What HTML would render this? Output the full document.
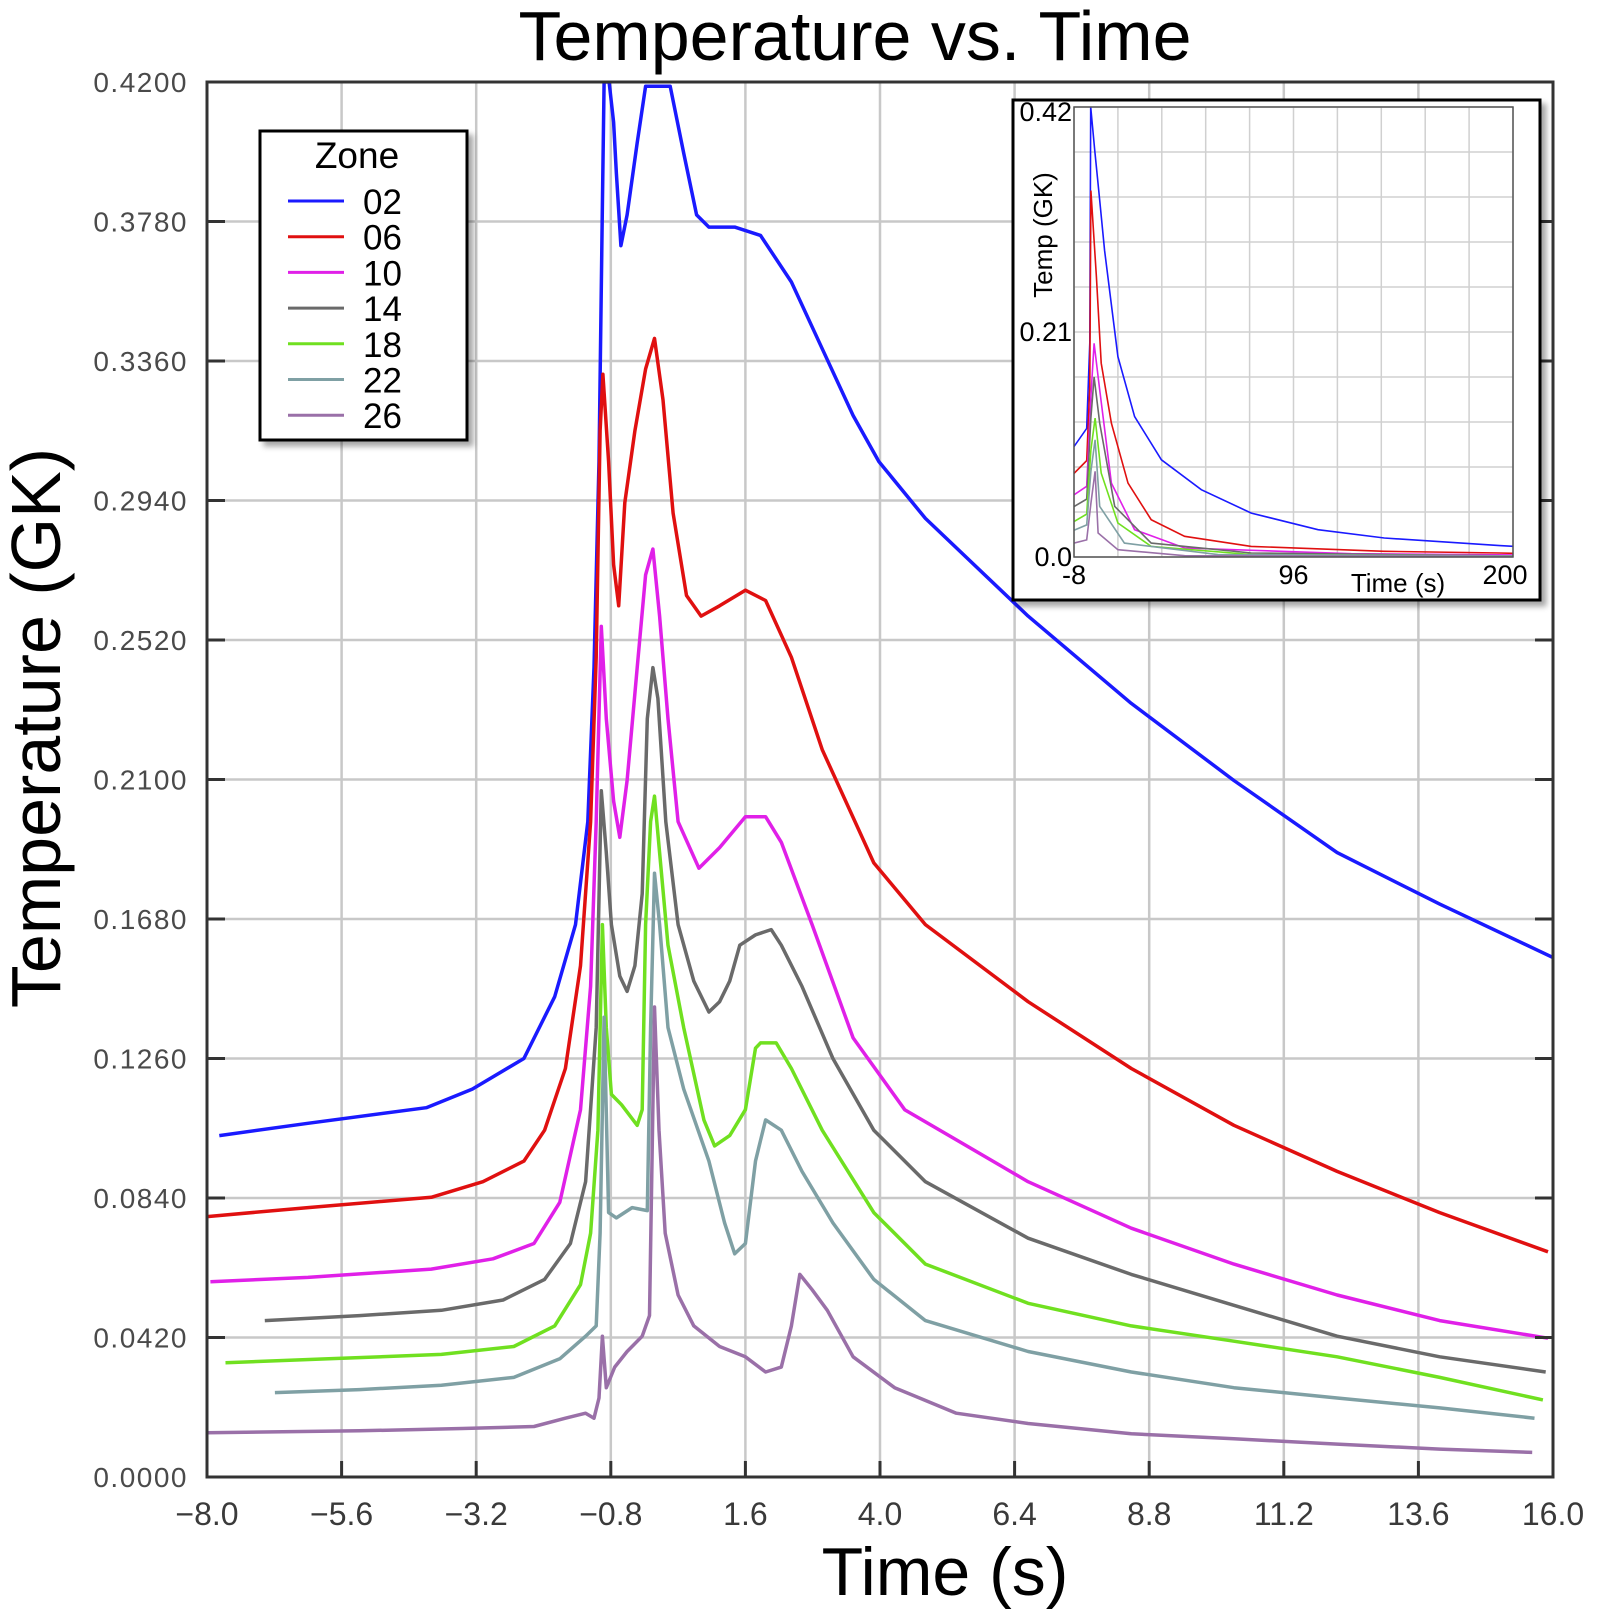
<!DOCTYPE html>
<html><head><meta charset="utf-8">
<style>
html,body{margin:0;padding:0;background:#fff;}
svg{display:block;font-family:"Liberation Sans",sans-serif;}
</style></head>
<body>
<svg id="chart" width="1597" height="1612" viewBox="0 0 1597 1612" xmlns="http://www.w3.org/2000/svg">
<defs>
<clipPath id="mainClip"><rect x="207" y="82" width="1346" height="1395"/></clipPath>
<clipPath id="insetClip"><rect x="1074" y="107" width="439" height="450"/></clipPath>
<filter id="shadow" x="-10%" y="-10%" width="130%" height="130%"><feDropShadow dx="5" dy="5" stdDeviation="3" flood-color="#000" flood-opacity="0.35"/></filter>
</defs>
<text x="855" y="60" font-size="70" text-anchor="middle" fill="#000">Temperature vs. Time</text>
<g id="grid"></g>
<g id="series" clip-path="url(#mainClip)"></g>
<rect x="207" y="82" width="1346" height="1395" fill="none" stroke="#333" stroke-width="3"/>
<g id="ticks"></g>
<text x="945" y="1595" font-size="68" text-anchor="middle" fill="#000">Time (s)</text>
<text transform="translate(60,728) rotate(-90)" font-size="70" text-anchor="middle" fill="#000">Temperature (GK)</text>
<g id="legend"></g>
<g id="inset"></g>
</svg>
<script>
const NS="http://www.w3.org/2000/svg";
const zones=["02","06","10","14","18","22","26"];
const colors=["#1a1aff","#e01010","#e020e8","#6a6a6a","#70e020","#7fa0a4","#9a70a8"];
const xTicks=[-8.0,-5.6,-3.2,-0.8,1.6,4.0,6.4,8.8,11.2,13.6,16.0];
const yTicks=[0.0,0.042,0.084,0.126,0.168,0.21,0.252,0.294,0.336,0.378,0.42];
const t02=[-7.78,-6.20,-4.09,-3.27,-2.35,-1.80,-1.43,-1.21,-1.10,-1.01,-0.95,-0.92,-0.83,-0.75,-0.70,-0.62,-0.51,-0.33,-0.18,0.13,0.26,0.50,0.73,0.95,1.41,1.87,2.42,2.97,3.52,3.98,4.81,6.64,8.48,10.31,12.15,13.98,16.0];
const v02=[0.1028,0.1065,0.1112,0.1168,0.1260,0.1446,0.1663,0.1973,0.2437,0.3057,0.3831,0.42,0.42,0.4079,0.3924,0.3707,0.3800,0.4017,0.4187,0.4187,0.4187,0.3986,0.3800,0.3763,0.3763,0.3738,0.3598,0.3397,0.3196,0.3057,0.2886,0.2592,0.2329,0.2097,0.1880,0.1725,0.1564];
const t06=[-8,-6.20,-4.0,-3.08,-2.35,-1.98,-1.61,-1.34,-1.16,-1.06,-0.99,-0.94,-0.84,-0.75,-0.66,-0.55,-0.37,-0.18,-0.02,0.13,0.31,0.55,0.81,1.14,1.60,1.96,2.42,2.97,3.89,4.81,6.64,8.48,10.31,12.15,13.98,15.91];
const v06=[0.0784,0.0811,0.0842,0.0889,0.0951,0.1044,0.1230,0.1539,0.1973,0.2468,0.3150,0.3320,0.3057,0.2747,0.2623,0.2933,0.3150,0.3336,0.3428,0.3243,0.2902,0.2654,0.2592,0.2623,0.2670,0.2639,0.2468,0.2190,0.1849,0.1663,0.1431,0.1230,0.1059,0.0920,0.0796,0.0678];
const t10=[-7.94,-6.20,-4.0,-2.90,-2.17,-1.71,-1.34,-1.16,-1.06,-0.97,-0.88,-0.75,-0.64,-0.51,-0.33,-0.18,-0.05,0.07,0.22,0.40,0.77,1.14,1.60,1.96,2.24,2.79,3.52,4.44,6.64,8.48,10.31,12.15,13.98,15.91];
const v10=[0.0588,0.0601,0.0626,0.0657,0.0703,0.0827,0.1106,0.1477,0.1973,0.2561,0.2283,0.2035,0.1926,0.2097,0.2437,0.2716,0.2794,0.2592,0.2283,0.1973,0.1833,0.1895,0.1988,0.1988,0.1911,0.1663,0.1322,0.1106,0.0889,0.0749,0.0641,0.0548,0.0471,0.0418];
const t14=[-6.97,-5.28,-3.82,-2.72,-1.98,-1.52,-1.25,-1.06,-0.97,-0.88,-0.79,-0.64,-0.51,-0.37,-0.24,-0.15,-0.05,0.04,0.18,0.40,0.68,0.95,1.14,1.32,1.50,1.78,2.06,2.24,2.61,3.16,3.89,4.81,6.64,8.48,10.31,12.15,13.98,15.87];
const v14=[0.0471,0.0486,0.0502,0.0533,0.0595,0.0703,0.0889,0.1353,0.2066,0.1880,0.1663,0.1508,0.1462,0.1539,0.1756,0.2283,0.2437,0.2344,0.1973,0.1663,0.1493,0.1400,0.1431,0.1493,0.1601,0.1632,0.1648,0.1601,0.1477,0.1260,0.1044,0.0889,0.0719,0.0610,0.0517,0.0424,0.0362,0.0316];
const t18=[-7.67,-5.83,-3.82,-2.53,-1.80,-1.34,-1.16,-1.03,-0.95,-0.88,-0.79,-0.61,-0.33,-0.24,-0.18,-0.09,-0.02,0.07,0.22,0.50,0.86,1.05,1.32,1.60,1.78,1.87,2.15,2.42,2.97,3.89,4.81,6.64,8.48,10.31,12.15,13.98,15.82];
const v18=[0.0344,0.0356,0.0369,0.0393,0.0455,0.0579,0.0734,0.1044,0.1663,0.1353,0.1152,0.1121,0.1059,0.1106,0.1663,0.1973,0.2050,0.1880,0.1601,0.1353,0.1075,0.0997,0.1028,0.1106,0.1291,0.1307,0.1307,0.1230,0.1044,0.0796,0.0641,0.0523,0.0455,0.0409,0.0362,0.0300,0.0232];
const t22=[-6.79,-5.28,-3.82,-2.53,-1.71,-1.25,-1.06,-0.99,-0.92,-0.84,-0.70,-0.42,-0.15,-0.09,-0.02,0.07,0.22,0.50,0.95,1.23,1.41,1.60,1.78,1.87,1.96,2.24,2.61,3.16,3.89,4.81,6.64,8.48,10.31,12.15,13.98,15.67];
const v22=[0.0254,0.0263,0.0276,0.0300,0.0356,0.0424,0.0455,0.0734,0.1384,0.0796,0.0780,0.0811,0.0802,0.1353,0.1818,0.1663,0.1353,0.1168,0.0951,0.0765,0.0672,0.0703,0.0951,0.1013,0.1075,0.1044,0.0920,0.0765,0.0595,0.0471,0.0378,0.0316,0.0269,0.0238,0.0208,0.0177];
const t26=[-8,-5.28,-3.45,-2.17,-1.61,-1.25,-1.10,-1.01,-0.95,-0.88,-0.73,-0.51,-0.24,-0.11,-0.02,0.06,0.17,0.40,0.68,1.14,1.60,1.96,2.24,2.42,2.57,2.79,3.06,3.52,4.26,5.36,6.64,8.48,10.31,12.15,13.98,15.63];
const v26=[0.0133,0.0139,0.0146,0.0152,0.0177,0.0192,0.0177,0.0238,0.0424,0.0269,0.0331,0.0378,0.0424,0.0486,0.1415,0.1044,0.0734,0.0548,0.0455,0.0393,0.0362,0.0316,0.0331,0.0455,0.0610,0.0564,0.0502,0.0362,0.0269,0.0192,0.0161,0.0130,0.0115,0.0099,0.0084,0.0074];
const mainT=[t02,t06,t10,t14,t18,t22,t26];
const mainV=[v02,v06,v10,v14,v18,v22,v26];
const insetXTicks=[-8,96,200];
const insetYTicks=[0.0,0.21,0.42];
const it02=[-8,-2,-0.5,-0.1,1.8,4.2,6.5,12.8,20.7,33.4,52.3,76,107.6,139,193.6,200];
const iv02=[0.103,0.12,0.2,0.42,0.380,0.333,0.286,0.187,0.131,0.0907,0.0628,0.041,0.0255,0.0177,0.0106,0.010];
const it06=[-8,-2,-0.5,0,2.6,4.9,9.7,17.6,28.6,44.4,76,139,193.6,200];
const iv06=[0.078,0.09,0.16,0.342,0.2616,0.181,0.1249,0.069,0.0348,0.0193,0.0099,0.0053,0.0037,0.0035];
const it10=[-8,-2,0,1.5,4.2,9.7,20.7,44.4,123.4,200];
const iv10=[0.058,0.066,0.15,0.1995,0.156,0.069,0.0255,0.0084,0.0031,0.002];
const it14=[-8,-2,0,1.5,4.2,11.3,28.6,76,200];
const iv14=[0.047,0.054,0.13,0.168,0.125,0.0472,0.013,0.0037,0.001];
const it18=[-8,-2,0,2,4.9,12.8,28.6,76,200];
const iv18=[0.033,0.04,0.1,0.1296,0.0783,0.0317,0.0099,0.0022,0.001];
const it22=[-8,-2,0,2,4.2,15.9,60.2,200];
const iv22=[0.025,0.03,0.08,0.1094,0.0472,0.013,0.0022,0.001];
const it26=[-8,-2,0,2,3.4,12.8,44.4,200];
const iv26=[0.013,0.016,0.05,0.08,0.0224,0.0068,0.0012,0.0005];
const insetT=[it02,it06,it10,it14,it18,it22,it26];
const insetV=[iv02,iv06,iv10,iv14,iv18,iv22,iv26];

const X=t=>207+(t+8)/24*1346;
const Y=v=>1477-v/0.42*1395;
const IX=t=>1074+(t+8)/208*439;
const IY=v=>557-v/0.42*450;

function mk(tag,attrs,parent){const e=document.createElementNS(NS,tag);for(const k in attrs)e.setAttribute(k,attrs[k]);parent.appendChild(e);return e;}

const grid=document.getElementById('grid');
const ticks=document.getElementById('ticks');
xTicks.forEach((t,i)=>{
  const x=X(t);
  const g=mk('line',{x1:x,x2:x,y1:82,y2:1477,stroke:'#c8c8c8','stroke-width':2.5},grid);
  
  
  const tk=mk('line',{x1:x,x2:x,y1:1477,y2:1461,stroke:'#333','stroke-width':3},ticks);
  
  
  const lb=mk('text',{x:x,y:1525,'font-size':32,'text-anchor':'middle',fill:'#3a3a3a'},ticks);
  lb.textContent=(t<0?'\u2212':'')+Math.abs(t).toFixed(1);
  
  
});
yTicks.forEach(v=>{
  const y=Y(v);
  const g=mk('line',{x1:207,x2:1553,y1:y,y2:y,stroke:'#c8c8c8','stroke-width':2.5},grid);
  
  
  const tk=mk('line',{x1:207,x2:225,y1:y,y2:y,stroke:'#333','stroke-width':3},ticks);
  
  
  const tk2=mk('line',{x1:1535,x2:1553,y1:y,y2:y,stroke:'#333','stroke-width':3},ticks);
  
  
  const lb=mk('text',{x:188,y:y+10,'font-size':28,'text-anchor':'end',fill:'#4a4a4a','letter-spacing':'1.5'},ticks);
  lb.textContent=v.toFixed(4);
  
  
});
const series=document.getElementById('series');
mainT.forEach((ts,i)=>{
  const pts=ts.map((t,j)=>X(t).toFixed(1)+','+Y(mainV[i][j]).toFixed(1)).join(' ');
  const p=mk('polyline',{points:pts,fill:'none',stroke:colors[i],'stroke-width':3.5,'stroke-linejoin':'round'},series);
  
  
});
const lg=document.getElementById('legend');
mk('rect',{x:260,y:131,width:207,height:309,fill:'#fff',stroke:'#000','stroke-width':3,filter:'url(#shadow)'},lg);
const lt=mk('text',{x:357,y:168,'font-size':37,'text-anchor':'middle',fill:'#000'},lg);
lt.textContent='Zone';


zones.forEach((z,i)=>{
  const y=201+i*35.7;
  const l=mk('line',{x1:288,x2:344,y1:y,y2:y,stroke:colors[i],'stroke-width':3},lg);
  
  
  const tx=mk('text',{x:363,y:y+13,'font-size':35,fill:'#000'},lg);
  tx.textContent=z;
  
  
});
const ins=document.getElementById('inset');
mk('rect',{x:1013,y:100,width:527,height:500,fill:'#fff',stroke:'#000','stroke-width':3,filter:'url(#shadow)'},ins);
for(let k=0;k<=10;k++){
  const x=1074+k*43.9;
  const g=mk('line',{x1:x,x2:x,y1:107,y2:557,stroke:'#d0d0d0','stroke-width':1.5},ins);
  
  
  const y=107+k*45;
  const h=mk('line',{x1:1074,x2:1513,y1:y,y2:y,stroke:'#d0d0d0','stroke-width':1.5},ins);
  
  
}
const ig=mk('g',{'clip-path':'url(#insetClip)'},ins);
insetT.forEach((ts,i)=>{
  const pts=ts.map((t,j)=>IX(t).toFixed(1)+','+IY(insetV[i][j]).toFixed(1)).join(' ');
  const p=mk('polyline',{points:pts,fill:'none',stroke:colors[i],'stroke-width':1.6},ig);
  
  
});
mk('rect',{x:1074,y:107,width:439,height:450,fill:'none',stroke:'#555','stroke-width':1.5},ins);
insetYTicks.forEach(v=>{
  const lb=mk('text',{x:1072,y:IY(v)+(v===0.42?14:9),'font-size':27,'text-anchor':'end',fill:'#000'},ins);
  lb.textContent=v===0?'0.0':v.toFixed(2);
  
  
});
insetXTicks.forEach(t=>{
  const lb=mk('text',{x:IX(t)+(t===200?-8:0),y:584,'font-size':27,'text-anchor':'middle',fill:'#000'},ins);
  lb.textContent=t;
  
  
});
const ixt=mk('text',{x:1398,y:592,'font-size':26,'text-anchor':'middle',fill:'#000'},ins);
ixt.textContent='Time (s)';


const iyt=mk('text',{transform:'translate(1052,235) rotate(-90)','font-size':26,'text-anchor':'middle',fill:'#000'},ins);
iyt.textContent='Temp (GK)';


</script>
</body></html>
